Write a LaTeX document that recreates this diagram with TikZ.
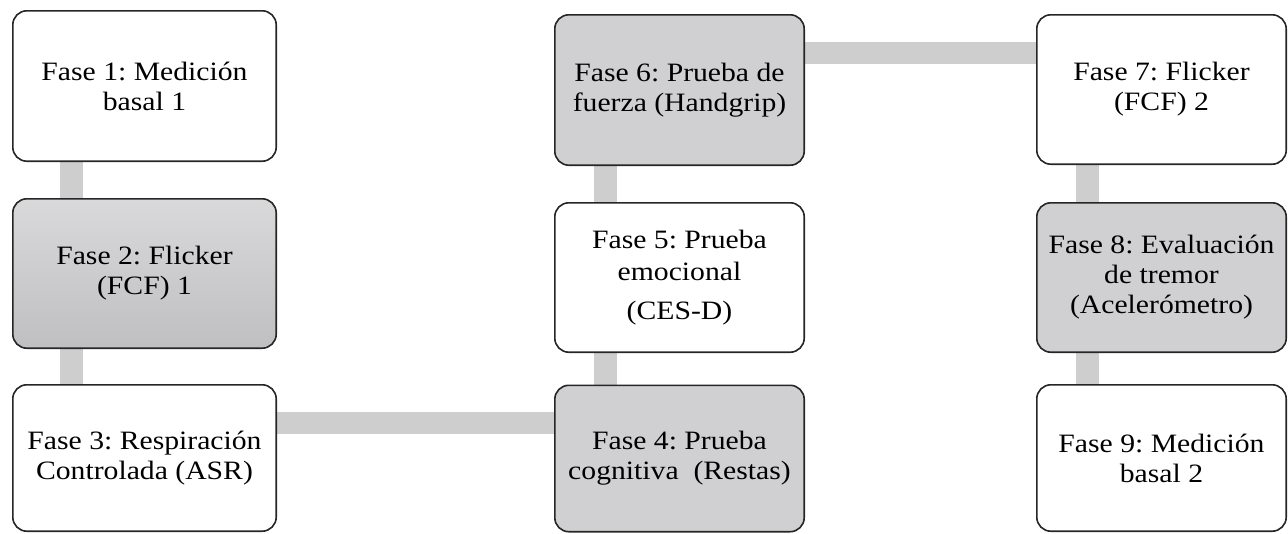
\documentclass[tikz,border=0pt]{standalone}
\usepackage{fontspec}
\setmainfont[FakeStretch=1.12]{Liberation Serif}
\usetikzlibrary{backgrounds}
\definecolor{boxgray}{HTML}{D0CFD1}
\definecolor{conngray}{HTML}{CFCECF}
\definecolor{edge}{HTML}{262626}
\tikzset{
  phase/.style={draw=edge, line width=1.6pt, rounded corners=14pt, align=center,
    inner sep=0pt, font=\fontsize{26.5}{30}\selectfont, minimum height=#1},
  phase/.default=150pt,
  wide/.style={minimum width=263.4pt},
  narrow/.style={minimum width=249.4pt},
  whitebox/.style={fill=white},
  graybox/.style={fill=boxgray},
  conn/.style={draw=conngray, line width=22.5pt}
}
\frenchspacing
\begin{document}
\begin{tikzpicture}[x=1pt, y=-1pt]
\useasboundingbox (0,0) rectangle (1288,533);
% column 1
\node[phase=150.4pt, wide, whitebox] (b1) at (144.5,86) {Fase 1: Medición\\basal 1};
\node[phase=149.4pt, wide, top color=boxgray!80!white, bottom color=boxgray!92!black] (b2) at (144.5,273.5) {Fase 2: Flicker\\(FCF) 1};
\node[phase=146.4pt, wide, whitebox] (b3) at (144.5,458) {Fase 3: Respiración\\Controlada (ASR)};
% column 2
\node[phase=146.4pt, narrow, graybox] (b4) at (679.5,458.5) {Fase 4: Prueba\\cognitiva \ (Restas)};
\node[phase=149.4pt, narrow, whitebox] (b5) at (679.5,277.5) {Fase 5: Prueba\\[2pt]emocional\\[9pt](CES-D)};
\node[phase=150.4pt, narrow, graybox] (b6) at (679.5,90) {Fase 6: Prueba de\\fuerza (Handgrip)};
% column 3
\node[phase=149.4pt, narrow, whitebox] (b7) at (1161.5,89.5) {Fase 7: Flicker\\(FCF) 2};
\node[phase=149.4pt, narrow, graybox] (b8) at (1161.5,277.5) {Fase 8: Evaluación\\de tremor\\(Acelerómetro)};
\node[phase=146.4pt, narrow, whitebox] (b9) at (1161.5,458) {Fase 9: Medición\\basal 2};
\begin{scope}[on background layer]
\draw[conn] ([xshift=59.5pt]b1.south west) -- ([xshift=59.5pt]b2.north west);
\draw[conn] ([xshift=59.5pt]b2.south west) -- ([xshift=59.5pt]b3.north west);
\draw[conn] ([yshift=-39pt]b3.north east) -- ([yshift=-39pt]b3.north east -| b4.west);
\draw[conn] ([xshift=51.5pt]b4.north west) -- ([xshift=51.5pt]b5.south west);
\draw[conn] ([xshift=51.5pt]b5.north west) -- ([xshift=51.5pt]b6.south west);
\draw[conn] ([yshift=-39pt]b6.north east) -- ([yshift=-39pt]b6.north east -| b7.west);
\draw[conn] ([xshift=51.5pt]b7.south west) -- ([xshift=51.5pt]b8.north west);
\draw[conn] ([xshift=51.5pt]b8.south west) -- ([xshift=51.5pt]b9.north west);
\end{scope}
\end{tikzpicture}
\end{document}
